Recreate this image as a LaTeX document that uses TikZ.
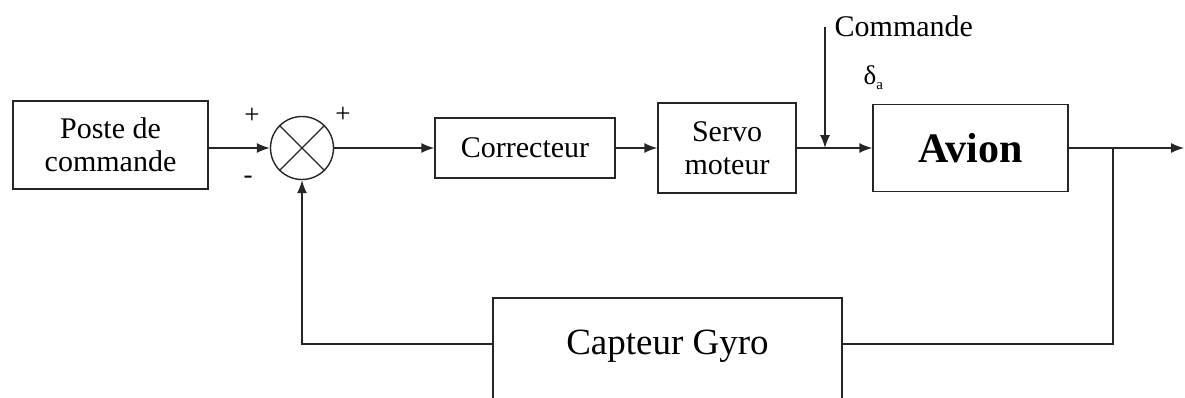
\documentclass[tikz,border=0pt]{standalone}
\usepackage{fontspec}
\setmainfont{Liberation Serif}
\usetikzlibrary{arrows.meta}
\begin{document}
\begin{tikzpicture}[x=1pt,y=-1pt,
  line width=1.4pt, draw=black!85,
  blk/.style={draw, rectangle, inner sep=0pt, align=center, font=\fontsize{30}{33}\selectfont},
  sig/.style={-{Latex[length=13pt,width=10pt]}},
  lbl/.style={font=\fontsize{27}{30}\selectfont, inner sep=0pt}]
\useasboundingbox (0,0) rectangle (1185,397);

% blocks of the loop
\node[blk, minimum width=195pt, minimum height=88pt] (poste) at (110.5,145) {Poste de\\commande};
\node[draw, circle, minimum size=63pt, inner sep=0pt] (sum) at (302,148) {};
\draw (sum.north west) -- (sum.south east) (sum.north east) -- (sum.south west);
\node[blk, minimum width=180pt, minimum height=60pt] (corr) at (525,148) {Correcteur};
\node[blk, minimum width=138pt, minimum height=90pt] (servo) at (727,148) {Servo\\moteur};
\node[blk, minimum width=195pt, minimum height=87pt, font=\fontsize{42}{46}\selectfont\bfseries] (avion) at (970.5,148) {Avion};
\node[blk, minimum width=349pt, minimum height=104pt] (capt) at (667.5,350) {};
\node[font=\fontsize{37}{42}\selectfont, inner sep=0pt] (capttxt) at (667.5,346) {Capteur Gyro};

% signs at the summing junction
\node[lbl] (p1) at (252,116) {+};
\node[lbl] (m1) at (248,180) {-};
\node[lbl] (p2) at (343,115) {+};

% external command input
\coordinate (cmdtop) at (825,27);
\coordinate (cmdin) at (825,148);
\node[lbl, font=\fontsize{30}{33}\selectfont, anchor=base west] (cmdlbl) at (834,36) {Commande};
\node[lbl, anchor=base west] (delta) at (863,84) {δ\raisebox{-5pt}{\fontsize{15}{17}\selectfont a}};

% output branch and feedback path
\coordinate (branch) at (1113,148);
\coordinate (out) at (1184,148);
\coordinate (fbR) at (1113,344);
\coordinate (fbL) at (302,344);

% forward path
\draw[sig] (poste.east |- sum.west) -- (sum.west);
\draw[sig] (sum.east) -- (corr.west);
\draw[sig] (corr.east) -- (servo.west |- corr.east);
\draw[sig] (servo.east |- cmdin) -- (avion.west |- cmdin);
\draw[sig] (cmdtop) -- (cmdin);
\draw[sig] (avion.east |- branch) -- (out);

% feedback
\draw (branch) -- (fbR) -- (fbR -| capt.east);
\draw[sig] (fbL -| capt.west) -- (fbL) -- (sum.south);
\end{tikzpicture}
\end{document}
